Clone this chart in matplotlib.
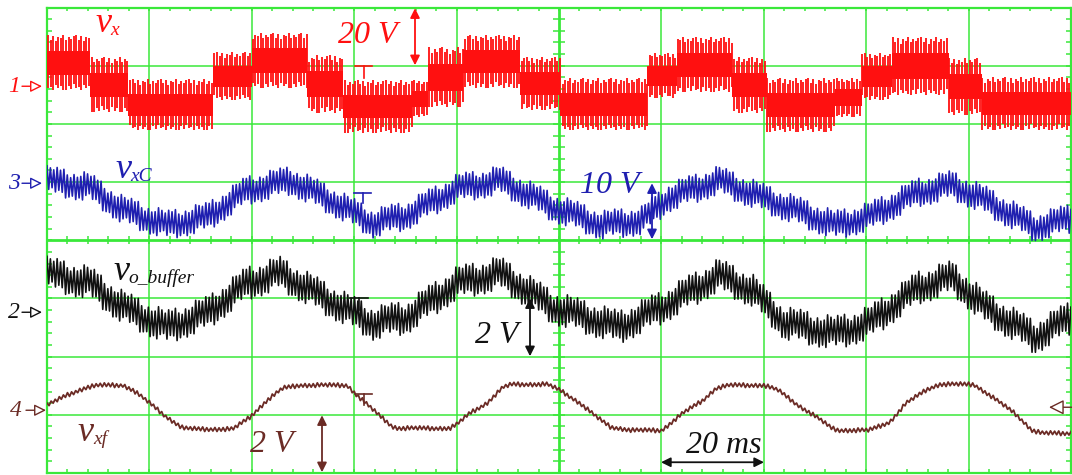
import numpy as np
import matplotlib.pyplot as plt

# time base: 20 ms/div, 10 div; values in volts
# ch1 v_x (20 V/div) - stepped multilevel PWM, upper/lower switching level per step
vx_edges = [0, 8.4, 15.8, 32.4, 40.0, 50.8, 57.8, 71.3, 74.4, 81.2, 92.4, 100.2,
            117.2, 123.0, 133.8, 140.6, 153.9, 159.1, 165.0, 176.1, 182.6, 200]
vx_high = [17.9, 10.3, 2.7, 12.0, 18.6, 11.0, 2.4, 2.4, 13.7, 17.9, 10.3,
           3.1, 11.7, 17.2, 10.3, 3.1, 3.1, 11.7, 17.2, 10.0, 3.4]
vx_low = [-1.0, -8.6, -14.8, -4.5, -0.3, -8.9, -15.8, -10.3, -6.9, -0.3, -7.9,
          -14.8, -3.8, -1.7, -8.9, -15.5, -10.3, -4.5, -2.7, -9.6, -14.8]

# ch3 v_xC (10 V/div), mid line of the noisy band
vxc_t = [0, 8.4, 14.8, 23.4, 31.3, 39.1, 47.5, 55.3, 63.7, 70.3, 80.1, 88.5, 98.8,
         108.4, 116.2, 121.5, 131.2, 141.0, 153.9, 160.5, 170.3, 176.7, 183.2, 193.0, 200]
vxc_v = [0.5, -0.7, -4.6, -7.2, -5.8, -1.2, 0.5, -2.9, -6.9, -5.5, -0.9, 0.5, -4.1,
         -7.2, -6.4, -2.4, 0.5, -2.9, -7.2, -5.8, -1.5, -0.3, -2.9, -7.6, -6.0]
vxc_ripple = 2.5

# ch2 v_o_buffer (2 V/div)
vob_t = [0, 8.4, 14.8, 23.4, 31.3, 39.1, 45.5, 53.9, 63.7, 70.3, 80.1, 88.5, 98.8,
         111.7, 120.1, 131.2, 137.7, 144.1, 153.9, 160.5, 170.3, 176.7, 183.2, 193.0, 200]
vob_v = [1.34, 1.0, 0.17, -0.52, -0.03, 1.0, 1.34, 0.52, -0.38, -0.17, 1.0, 1.34, 0.17,
         -0.52, 0.17, 1.27, 0.76, -0.38, -0.72, -0.38, 0.86, 1.2, 0.17, -0.86, -0.17]
vob_ripple = 0.58

# ch4 v_xf (2 V/div)
vxf_t = [0, 3.9, 7.8, 10.4, 14.8, 16.8, 20.1, 23.4, 26.6, 29.9, 36.3, 39.6, 43.0, 46.1,
         49.4, 58.6, 60.5, 64.4, 67.6, 68.9, 78.7, 80.1, 82.6, 85.9, 89.1, 90.8, 97.7,
         100.2, 104.1, 107.4, 110.1, 114.3, 120.1, 124.2, 128.1, 130.7, 133.4, 140.0,
         142.8, 146.7, 150.6, 153.3, 154.7, 160.5, 164.6, 167.8, 171.9, 174.4, 181.0,
         184.4, 189.0, 192.4, 194.3, 200]
vxf_v = [0.17, 0.52, 0.79, 0.86, 0.86, 0.69, 0.24, -0.24, -0.62, -0.65, -0.65, -0.24,
         0.34, 0.76, 0.86, 0.86, 0.52, -0.10, -0.58, -0.62, -0.62, -0.48, -0.10, 0.24,
         0.79, 0.89, 0.89, 0.69, 0.24, -0.24, -0.58, -0.69, -0.69, -0.10, 0.34, 0.76,
         0.86, 0.86, 0.69, 0.17, -0.27, -0.62, -0.69, -0.69, -0.41, 0.24, 0.72, 0.89,
         0.89, 0.48, -0.10, -0.69, -0.79, -0.79]
vxf_ripple = 0.08

# volts/div and ground marker position (div) per channel
scale = {1: 20, 3: 10, 2: 2, 4: 2}
offset = {1: 2.63, 3: 0.979, 2: -1.237, 4: -2.921}
col = {1: '#ff1010', 3: '#1f1fb0', 2: '#111111', 4: '#6b2b25'}
green = '#3ae83a'
ripple_shape = [1.0, 0.6, 0.9, 0.45, 0.8, 0.7, 1.0, 0.55, 0.85, 0.65, 0.95]

serif = dict(family=['Liberation Serif', 'DejaVu Serif'], style='italic')


def px(x):
    return (x - 47) * 200 / 1024


def py(y):
    return (240 - y) * 8 / 465.5


def div(ch, v):
    return offset[ch] + np.asarray(v) / scale[ch]


fig = plt.figure(figsize=(10.72, 4.75), dpi=100)
ax = fig.add_axes([47 / 1072, 2 / 475, 1024 / 1072, 465.5 / 475])
ax.set_xlim(0, 200)
ax.set_ylim(-4, 4)
ax.set_xticks([])
ax.set_yticks([])
for s in ax.spines.values():
    s.set_color(green)
    s.set_linewidth(1.6)

# graticule
for i in range(1, 10):
    ax.axvline(i * 20, color=green, lw=2.0 if i == 5 else 1.1, zorder=1)
for j in range(-3, 4):
    ax.axhline(j, color=green, lw=2.0 if j == 0 else 1.1, zorder=1)
xm = np.arange(0, 200.01, 4)
ym = np.arange(-4, 4.01, 0.2)
dx, dy = 200 / 1024, 8 / 465.5
ax.hlines(ym, 0, 5 * dx, color=green, lw=1.1, zorder=1)
ax.hlines(ym, 200 - 5 * dx, 200, color=green, lw=1.1, zorder=1)
ax.hlines(ym, 100 - 6 * dx, 100 + 6 * dx, color=green, lw=1.1, zorder=1)
ax.vlines(xm, 4 - 3 * dy, 4, color=green, lw=1.1, zorder=1)
ax.vlines(xm, -4, -4 + 4 * dy, color=green, lw=1.1, zorder=1)
ax.vlines(xm, -4 * dy, 4 * dy, color=green, lw=1.1, zorder=1)

# ch1: switching pulses between the two levels of each step
tp = np.arange(0.2, 200, 0.5)
seg = np.searchsorted(vx_edges, tp, side='right') - 1
seg = np.clip(seg, 0, len(vx_high) - 1)
hi = div(1, np.array(vx_high)[seg])
lo = div(1, np.array(vx_low)[seg])
k = np.arange(len(tp))
rs = np.array(ripple_shape)
top = hi - (1 - rs[k % len(rs)]) * 0.2 * (hi - lo)
bot = lo + (1 - rs[(k + 4) % len(rs)]) * 0.2 * (hi - lo)
ax.vlines(tp, bot, top, color=col[1], lw=1.3, zorder=3)
h = div(1, vx_high + [vx_high[-1]])
l = div(1, vx_low + [vx_low[-1]])
ax.fill_between(vx_edges, l + 0.28 * (h - l), h - 0.28 * (h - l), step='post',
                color=col[1], lw=0, zorder=3)


def noisy(ch, t, v, ripple, step, lw):
    tz = np.arange(0, 200.001, step)
    cz = np.interp(tz, t, v)
    k = np.arange(len(tz))
    amp = np.array(ripple_shape)[k % len(ripple_shape)] * ripple
    ax.plot(tz, div(ch, cz + np.where(k % 2, -amp, amp)), color=col[ch], lw=lw, zorder=3)


noisy(3, vxc_t, vxc_v, vxc_ripple, 0.33, 1.2)
noisy(2, vob_t, vob_v, vob_ripple, 0.33, 1.2)
noisy(4, vxf_t, vxf_v, vxf_ripple, 0.4, 1.3)

# trigger "T" markers
for ch, (bar, stem, x0, x1) in {1: (66, 78, 355, 372), 3: (193, 203, 354, 371),
                                 2: (298, 310, 350, 368), 4: (394, 405, 355, 372)}.items():
    ax.plot([px(x0), px(x1)], [py(bar), py(bar)], color=col[ch], lw=1.2, zorder=4)
    ax.plot([px((x0 + x1) / 2)] * 2, [py(bar), py(stem)], color=col[ch], lw=1.2, zorder=4)


def vlabel(x, y, sub, c):
    ax.text(px(x), py(y), 'v', color=c, fontsize=26, va='baseline', zorder=5, **serif)
    ax.text(px(x + 15), py(y + 3), sub, color=c, fontsize=14, va='baseline', zorder=5, **serif)


vlabel(95, 32, 'x', col[1])
vlabel(115, 178, 'xC', col[3])
vlabel(113, 280, 'o_buffer', col[2])
vlabel(78, 441, 'xf', col[4])


def vtext(x, y, s, c):
    ax.text(px(x), py(y), s, color=c, fontsize=23, va='baseline', zorder=5, **serif)


def darrow(x0, y0, x1, y1, c):
    ax.annotate('', xy=(px(x0), py(y0)), xytext=(px(x1), py(y1)),
                arrowprops=dict(arrowstyle='<|-|>', color=c, lw=1.3,
                                mutation_scale=14, shrinkA=0, shrinkB=0),
                zorder=5)


vtext(338, 43, '20 V', col[1])
darrow(415, 8, 415, 65, col[1])
vtext(580, 193, '10 V', col[3])
darrow(652, 183, 652, 239, col[3])
vtext(475, 343, '2 V', col[2])
darrow(530, 298, 530, 356, col[2])
vtext(250, 452, '2 V', col[4])
darrow(322, 415, 322, 472, col[4])
vtext(686, 453, '20 ms', col[2])
darrow(661, 462, 764, 462, col[2])

# channel ground markers
for ch, (y, xl, xa) in {1: (86, 8, 22), 3: (183, 8, 22), 2: (312, 8, 22),
                        4: (410, 10, 26)}.items():
    ax.text(px(xl), py(y), str(ch), color=col[ch], fontsize=17, va='center',
            clip_on=False, **serif)
    ax.annotate('', xy=(px(xa + 20), py(y)), xytext=(px(xa), py(y)), annotation_clip=False,
                arrowprops=dict(arrowstyle='-|>,head_length=0.7,head_width=0.35',
                                ec=col[ch], fc='white', lw=1.0, shrinkA=0, shrinkB=0))
ax.annotate('', xy=(px(1049), py(407)), xytext=(px(1072), py(407)), annotation_clip=False,
            arrowprops=dict(arrowstyle='-|>,head_length=0.9,head_width=0.45',
                            ec=col[4], fc='white', lw=1.0, shrinkA=0, shrinkB=0))

fig.savefig('out.png', dpi=100)
